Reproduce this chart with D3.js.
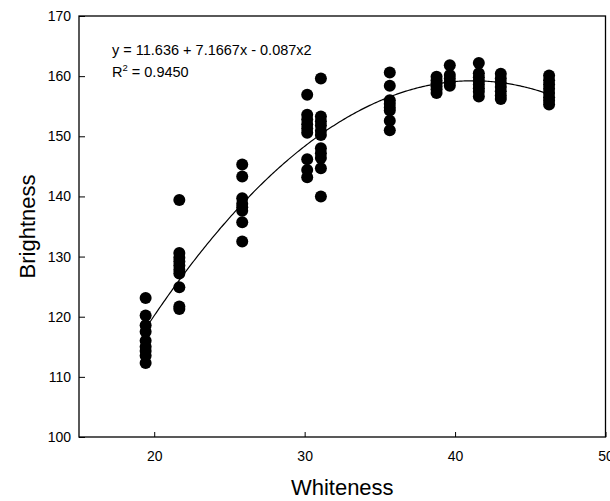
<!DOCTYPE html>
<html>
<head>
<meta charset="utf-8">
<script src="https://cdn.jsdelivr.net/npm/d3@7"></script>
<style>
  body { margin: 0; background: #fff; }
  text { font-family: 'Liberation Sans', Arial, sans-serif; }
</style>
</head>
<body>
<script>
// whiteness groups and brightness readings
var whiteness = [19.43, 21.67, 25.85, 30.17, 31.08, 35.66, 38.77, 39.65, 41.58, 43.04, 46.25]
var brightness = [
  [123.1, 120.2, 118.6, 117.5, 116.0, 115.0, 114.3, 113.5, 112.3],
  [139.4, 130.6, 129.8, 129.2, 128.5, 127.8, 127.2, 124.9, 121.7, 121.3],
  [145.3, 143.3, 139.7, 138.8, 138.2, 137.6, 135.7, 132.5],
  [156.9, 153.6, 152.8, 152.0, 151.3, 150.6, 146.2, 144.4, 143.2],
  [159.6, 153.3, 152.5, 151.8, 150.9, 150.2, 148.0, 147.2, 146.4, 144.7, 140.0],
  [160.6, 158.4, 156.0, 155.4, 154.8, 154.3, 152.6, 151.0],
  [159.9, 159.3, 158.8, 158.3, 157.8, 157.2],
  [161.8, 160.2, 159.6, 159.0, 158.4],
  [162.2, 160.5, 159.8, 159.2, 158.6, 158.0, 157.4, 156.6],
  [160.4, 159.6, 158.9, 158.2, 157.5, 156.8, 156.2],
  [160.1, 159.3, 158.6, 157.9, 157.2, 156.5, 155.9, 155.3]
]
var coef = [11.636, 7.1667, -0.087]
var xTicks = [20, 30, 40, 50]
var yTicks = [100, 110, 120, 130, 140, 150, 160, 170]

var width = 610
var height = 501
var margin = { left: 79, right: 4.5, top: 16, bottom: 64 }

var svg = d3.select('body').append('svg')
  .attr('width', width)
  .attr('height', height)

var x = d3.scaleLinear().domain([15, 50]).range([margin.left, width - margin.right])
var y = d3.scaleLinear().domain([100, 170]).range([height - margin.bottom, margin.top])

// frame
svg.append('rect')
  .attr('x', x(15))
  .attr('y', y(170))
  .attr('width', x(50) - x(15))
  .attr('height', y(100) - y(170))
  .style('fill', 'none')
  .style('stroke', '#000')
  .style('stroke-width', 1.3)

var xAxis = svg.append('g')
  .attr('transform', 'translate(0,' + y(100) + ')')
  .call(d3.axisBottom(x).tickValues(xTicks).tickSizeInner(-5).tickSizeOuter(0).tickPadding(14))
var yAxis = svg.append('g')
  .attr('transform', 'translate(' + x(15) + ',0)')
  .call(d3.axisLeft(y).tickValues(yTicks).tickSizeInner(-6).tickSizeOuter(0).tickPadding(8))

xAxis.select('.domain').remove()
yAxis.select('.domain').remove()
svg.selectAll('.tick line').style('stroke', '#000')
svg.selectAll('.tick text')
  .style('font-size', '14px')
  .style('font-family', "'Liberation Sans', Arial, sans-serif")
  .style('fill', '#000')

// points
var points = []
whiteness.forEach(function (w, i) {
  brightness[i].forEach(function (b) { points.push([w, b]) })
})
svg.append('g').selectAll('circle')
  .data(points)
  .enter().append('circle')
  .attr('cx', function (d) { return x(d[0]) })
  .attr('cy', function (d) { return y(d[1]) })
  .attr('r', 6)
  .style('fill', '#000')

// fitted curve
var curveX = d3.range(whiteness[0], whiteness[whiteness.length - 1] + 0.01, 0.1)
var line = d3.line()
  .x(function (d) { return x(d) })
  .y(function (d) { return y(coef[0] + coef[1] * d + coef[2] * d * d) })
svg.append('path')
  .datum(curveX)
  .attr('d', line)
  .style('fill', 'none')
  .style('stroke', '#000')
  .style('stroke-width', 1.2)

// equation
svg.append('text')
  .attr('x', 112)
  .attr('y', 55)
  .style('font-size', '14.5px')
  .text('y = 11.636 + 7.1667x - 0.087x2')
var r2 = svg.append('text')
  .attr('x', 112)
  .attr('y', 77)
  .style('font-size', '14.5px')
r2.append('tspan').text('R')
r2.append('tspan').attr('dy', -6).style('font-size', '9.5px').text('2')
r2.append('tspan').attr('dy', 6).text(' = 0.9450')

// axis titles
svg.append('text')
  .attr('x', (x(15) + x(50)) / 2)
  .attr('y', 495)
  .attr('text-anchor', 'middle')
  .style('font-size', '22px')
  .text('Whiteness')
svg.append('text')
  .attr('transform', 'translate(35,' + (y(100) + y(170)) / 2 + ') rotate(-90)')
  .attr('text-anchor', 'middle')
  .style('font-size', '22px')
  .text('Brightness')
</script>
</body>
</html>
